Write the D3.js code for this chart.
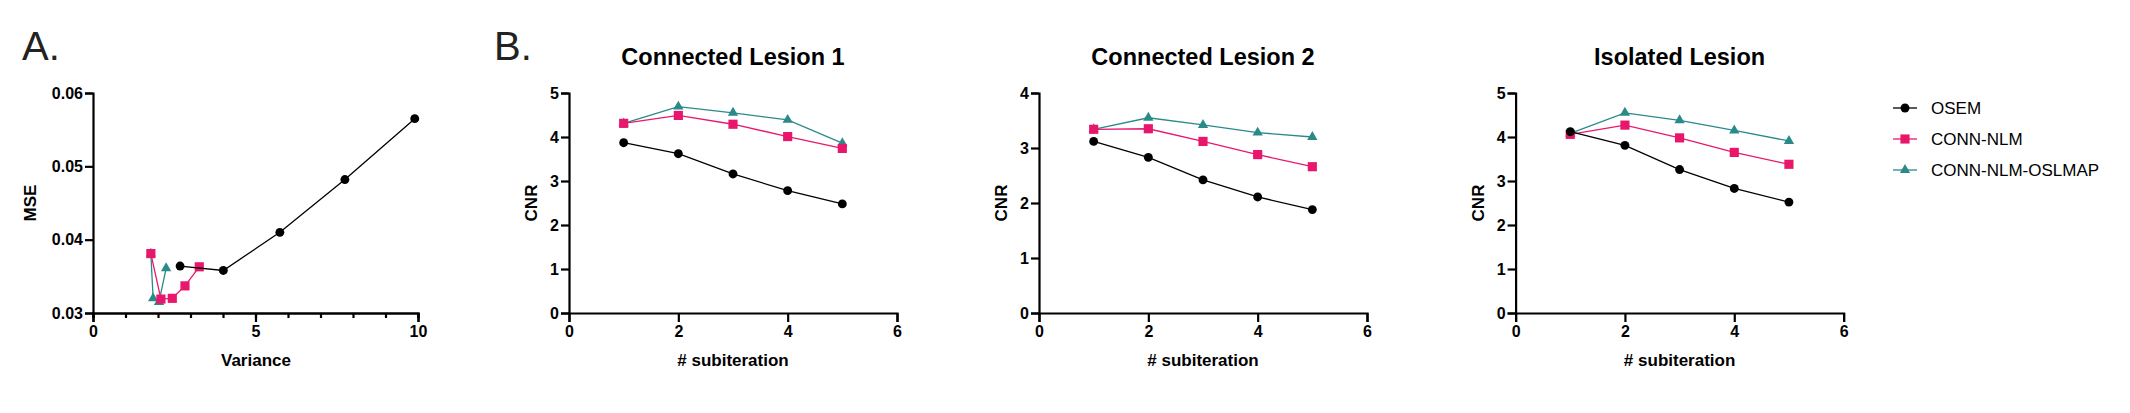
<!DOCTYPE html>
<html>
<head>
<meta charset="utf-8">
<script src="https://cdn.jsdelivr.net/npm/d3@7"></script>
<style>
  html, body { margin: 0; padding: 0; background: #fff; }
  svg { display: block; }
  text { font-family: "Liberation Sans", Arial, Helvetica, sans-serif; }
</style>
</head>
<body>
<svg id="chart" width="2130" height="413"></svg>
<script>
// ---------- data ----------
const methods = ["OSEM", "CONN-NLM", "CONN-NLM-OSLMAP"];
const colors = ["#000000", "#E9176C", "#2A8A8A"];

// Panel A: variance vs MSE
const varianceOSEM = [2.68, 4.01, 5.75, 7.75, 9.9];
const mseOSEM      = [0.0364, 0.0358, 0.0410, 0.0482, 0.0565];
const varianceNLM  = [1.78, 2.09, 2.44, 2.83, 3.27];
const mseNLM       = [0.0381, 0.0319, 0.0320, 0.0337, 0.0363];
const varianceOSL  = [1.78, 1.85, 2.03, 2.25];
const mseOSL       = [0.0381, 0.0320, 0.0315, 0.0361];

// Panel B: CNR vs subiteration
const subiterations = [1, 2, 3, 4, 5];
const cl1OSEM = [3.87, 3.62, 3.16, 2.78, 2.48];
const cl1NLM  = [4.31, 4.49, 4.29, 4.01, 3.74];
const cl1OSL  = [4.31, 4.69, 4.55, 4.39, 3.86];
const cl2OSEM = [3.12, 2.83, 2.42, 2.11, 1.88];
const cl2NLM  = [3.34, 3.35, 3.12, 2.88, 2.66];
const cl2OSL  = [3.34, 3.55, 3.42, 3.28, 3.20];
const isoOSEM = [4.12, 3.81, 3.26, 2.83, 2.52];
const isoNLM  = [4.06, 4.27, 3.98, 3.65, 3.38];
const isoOSL  = [4.08, 4.55, 4.38, 4.15, 3.91];

const titles = ["Connected Lesion 1", "Connected Lesion 2", "Isolated Lesion"];
const yMaxB = [5, 4, 5];

// ---------- drawing ----------
const svg = d3.select("#chart");
const symbols = [d3.symbolCircle, d3.symbolSquare, d3.symbolTriangle];
const symSizes = [62, 84, 46];
const plotTop = 93, plotBottom = 313;

function styleAxis(g) {
  g.selectAll("path.domain").attr("stroke", "#000").attr("stroke-width", 2.2);
  g.selectAll(".tick line").attr("stroke", "#000").attr("stroke-width", 2.2);
  g.selectAll(".tick text").attr("font-size", 16).attr("font-weight", "bold").attr("fill", "#000")
    .attr("font-family", "'Liberation Sans', Arial, Helvetica, sans-serif");
}

function drawSeries(g, x, y, xs, ys, idx) {
  const pts = xs.map((v, i) => [v, ys[i]]);
  g.append("path")
    .datum(pts)
    .attr("fill", "none")
    .attr("stroke", colors[idx])
    .attr("stroke-width", 1.3)
    .attr("d", d3.line().x(d => x(d[0])).y(d => y(d[1])));
  g.selectAll(null).data(pts).enter().append("path")
    .attr("transform", d => `translate(${x(d[0])},${y(d[1])})`)
    .attr("d", d3.symbol().type(symbols[idx]).size(symSizes[idx]))
    .attr("fill", colors[idx]);
}

// Panel letters
svg.append("text").attr("x", 22).attr("y", 60).attr("font-size", 40).attr("fill", "#222").text("A.");
svg.append("text").attr("x", 494).attr("y", 60).attr("font-size", 40).attr("fill", "#222").text("B.");

// ----- Panel A -----
{
  const x = d3.scaleLinear().domain([0, 10]).range([93, 418]);
  const y = d3.scaleLinear().domain([0.03, 0.06]).range([plotBottom, plotTop]);
  const g = svg.append("g");
  const gxMinor = g.append("g").attr("transform", `translate(0,${plotBottom})`)
    .call(d3.axisBottom(x).tickValues(d3.range(0, 11, 1)).tickSize(5).tickFormat(""));
  styleAxis(gxMinor);
  const gx = g.append("g").attr("transform", `translate(0,${plotBottom})`)
    .call(d3.axisBottom(x).tickValues([0, 5, 10]).tickSize(9).tickPadding(4).tickFormat(d3.format("d")));
  styleAxis(gx);
  const gy = g.append("g").attr("transform", `translate(93,0)`)
    .call(d3.axisLeft(y).tickValues([0.03, 0.04, 0.05, 0.06]).tickSize(8).tickPadding(2).tickFormat(d3.format(".2f")));
  styleAxis(gy);
  g.append("text").attr("x", 256).attr("y", 366).attr("text-anchor", "middle")
    .attr("font-size", 17).attr("font-weight", "bold").text("Variance");
  g.append("text").attr("transform", `translate(36,203) rotate(-90)`).attr("text-anchor", "middle")
    .attr("font-size", 17).attr("font-weight", "bold").text("MSE");
  const seriesA = [[varianceOSEM, mseOSEM], [varianceNLM, mseNLM], [varianceOSL, mseOSL]];
  [2, 1, 0].forEach(i => drawSeries(g, x, y, seriesA[i][0], seriesA[i][1], i));
}

// ----- Panels B -----
const bLefts = [569, 1039, 1515.6];
const bData = [
  [cl1OSEM, cl1NLM, cl1OSL],
  [cl2OSEM, cl2NLM, cl2OSL],
  [isoOSEM, isoNLM, isoOSL]
];
bLefts.forEach((left, p) => {
  const x = d3.scaleLinear().domain([0, 6]).range([left, left + 328]);
  const y = d3.scaleLinear().domain([0, yMaxB[p]]).range([plotBottom, plotTop]);
  const g = svg.append("g");
  const gx = g.append("g").attr("transform", `translate(0,${plotBottom})`)
    .call(d3.axisBottom(x).tickValues([0, 2, 4, 6]).tickSize(9).tickPadding(4).tickFormat(d3.format("d")));
  styleAxis(gx);
  const gy = g.append("g").attr("transform", `translate(${left},0)`)
    .call(d3.axisLeft(y).tickValues(d3.range(0, yMaxB[p] + 1)).tickSize(8).tickPadding(2).tickFormat(d3.format("d")));
  styleAxis(gy);
  g.append("text").attr("x", left + 164).attr("y", 65).attr("text-anchor", "middle")
    .attr("font-size", 23.5).attr("font-weight", "bold").text(titles[p]);
  g.append("text").attr("x", left + 164).attr("y", 366).attr("text-anchor", "middle")
    .attr("font-size", 17).attr("font-weight", "bold").text("# subiteration");
  g.append("text").attr("transform", `translate(${left - 32},203) rotate(-90)`).attr("text-anchor", "middle")
    .attr("font-size", 17).attr("font-weight", "bold").text("CNR");
  [2, 1, 0].forEach(i => drawSeries(g, x, y, subiterations, bData[p][i], i));
});

// ----- Legend -----
const legY = [108, 139, 170];
methods.forEach((m, i) => {
  const lg = svg.append("g").attr("transform", `translate(1905,${legY[i]})`);
  lg.append("line").attr("x1", -12).attr("x2", 12).attr("stroke", colors[i]).attr("stroke-width", 1.3);
  lg.append("path").attr("d", d3.symbol().type(symbols[i]).size(symSizes[i])).attr("fill", colors[i]);
  lg.append("text").attr("x", 26).attr("y", 6).attr("font-size", 17).attr("fill", "#000").text(m);
});
</script>
</body>
</html>
